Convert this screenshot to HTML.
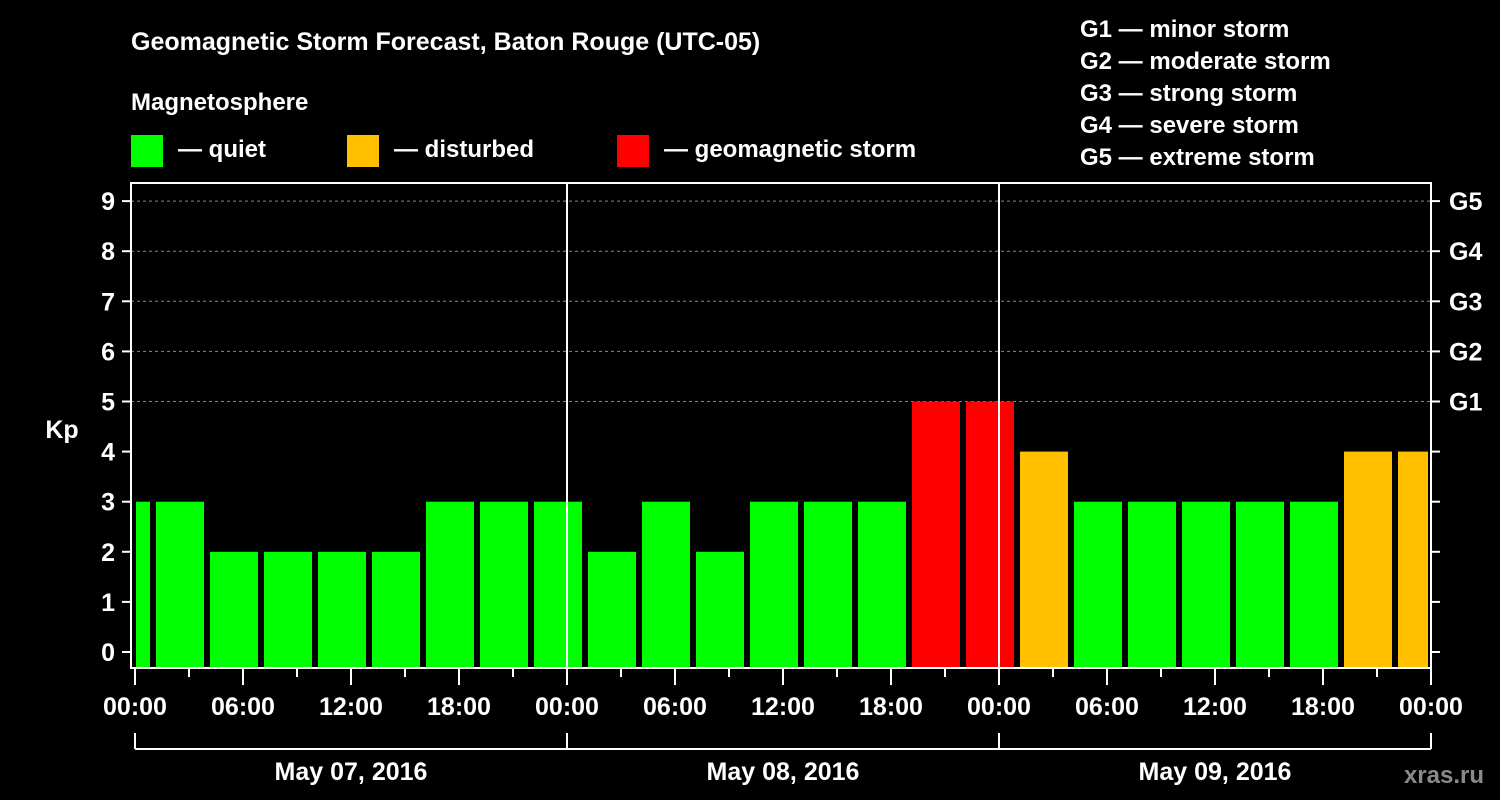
<!DOCTYPE html>
<html><head><meta charset="utf-8"><style>
body{margin:0;background:#000;width:1500px;height:800px;overflow:hidden}
svg{display:block}
text{font-family:"Liberation Sans",sans-serif;font-weight:bold;fill:#fff}
</style></head><body>
<svg id="chart" width="1500" height="800">
<text x="131" y="50" font-size="25">Geomagnetic Storm Forecast, Baton Rouge (UTC-05)</text>
<text x="131" y="110" font-size="24">Magnetosphere</text>
<rect x="131" y="135" width="32" height="32" fill="#00ff00"/>
<text x="178" y="157" font-size="24">— quiet</text>
<rect x="347" y="135" width="32" height="32" fill="#ffc000"/>
<text x="394" y="157" font-size="24">— disturbed</text>
<rect x="617" y="135" width="32" height="32" fill="#ff0000"/>
<text x="664" y="157" font-size="24">— geomagnetic storm</text>
<g font-size="24">
<text x="1080" y="37">G1 — minor storm</text>
<text x="1080" y="69">G2 — moderate storm</text>
<text x="1080" y="101">G3 — strong storm</text>
<text x="1080" y="133">G4 — severe storm</text>
<text x="1080" y="165">G5 — extreme storm</text>
</g>
<text x="62" y="438" font-size="25" text-anchor="middle">Kp</text>
<text x="1484" y="783" font-size="24" text-anchor="end" fill="#888" style="fill:#8a8a8a">xras.ru</text>
<g id="grid"></g><g id="bars"></g><g id="axes"></g>
</svg>
<script>
const hours = [-2,1,4,7,10,13,16,19,22,25,28,31,34,37,40,43,46,49,52,55,58,61,64,67,70];
const kpValues = [3,3,2,2,2,2,3,3,3,2,3,2,3,3,3,5,5,4,3,3,3,3,3,4,4];
const yTicks = [0,1,2,3,4,5,6,7,8,9];
const gLabels = ['','','','','','G1','G2','G3','G4','G5'];
const xTickLabels = ['00:00','06:00','12:00','18:00','00:00','06:00','12:00','18:00','00:00','06:00','12:00','18:00','00:00'];
const dateLabels = ['May 07, 2016','May 08, 2016','May 09, 2016'];

const NS='http://www.w3.org/2000/svg';
const L=131,R=1431,T=183,B=668,X0=135,HPX=18,Y0=652,KPX=50.1;
const xs=h=>X0+h*HPX, ys=k=>Y0-k*KPX;
function mk(tag,attrs,parent){const e=document.createElementNS(NS,tag);for(const k in attrs)e.setAttribute(k,attrs[k]);parent.appendChild(e);return e;}
const grid=document.getElementById('grid'),bars=document.getElementById('bars'),axes=document.getElementById('axes');
yTicks.forEach((k,i)=>{
  if(k>=5){const g=mk('line',{x1:L,x2:R,y1:ys(k),y2:ys(k),stroke:'#888','stroke-dasharray':'3,3','stroke-width':1},grid);
  
  }
  const t1=mk('line',{x1:L-9,x2:L,y1:ys(k),y2:ys(k),stroke:'#fff','stroke-width':2},axes);
  
  
  const t2=mk('line',{x1:R,x2:R+9,y1:ys(k),y2:ys(k),stroke:'#fff','stroke-width':2},axes);
  
  
  const lb=mk('text',{x:L-16,y:ys(k)+9,'font-size':25,'text-anchor':'end'},axes);lb.textContent=k;
  
  
  if(gLabels[i]){const gl=mk('text',{x:R+18,y:ys(k)+9,'font-size':25},axes);gl.textContent=gLabels[i];
  
  }
});
hours.forEach((h,i)=>{
  const v=kpValues[i];
  let x1=xs(h)+3,x2=xs(h+3)-3;
  x1=Math.max(x1,X0+1);x2=Math.min(x2,R-3);
  const col=v>=5?'#ff0000':(v>=4?'#ffc000':'#00ff00');
  const r=mk('rect',{x:x1,y:ys(v),width:x2-x1,height:B-ys(v),fill:col},bars);
  
  
});
[1,2].forEach(d=>{const v=mk('line',{x1:xs(d*24),x2:xs(d*24),y1:T,y2:B,stroke:'#fff','stroke-width':2},axes);

});
const fr=mk('rect',{x:L,y:T,width:R-L,height:B-T,fill:'none',stroke:'#fff','stroke-width':2},axes);


for(let h=0;h<=72;h+=3){const major=h%6===0;const t=mk('line',{x1:xs(h),x2:xs(h),y1:B,y2:B+(major?17:9),stroke:'#fff','stroke-width':2},axes);

}
xTickLabels.forEach((s,i)=>{const t=mk('text',{x:xs(i*6),y:715,'font-size':25,'text-anchor':'middle'},axes);t.textContent=s;

});
const br=mk('line',{x1:X0,x2:xs(72),y1:749,y2:749,stroke:'#fff','stroke-width':2},axes);


for(let d=0;d<=3;d++){const t=mk('line',{x1:xs(d*24),x2:xs(d*24),y1:733,y2:749,stroke:'#fff','stroke-width':2},axes);

}
dateLabels.forEach((s,i)=>{const t=mk('text',{x:xs(i*24+12),y:780,'font-size':25,'text-anchor':'middle'},axes);t.textContent=s;

});
</script>
</body></html>
